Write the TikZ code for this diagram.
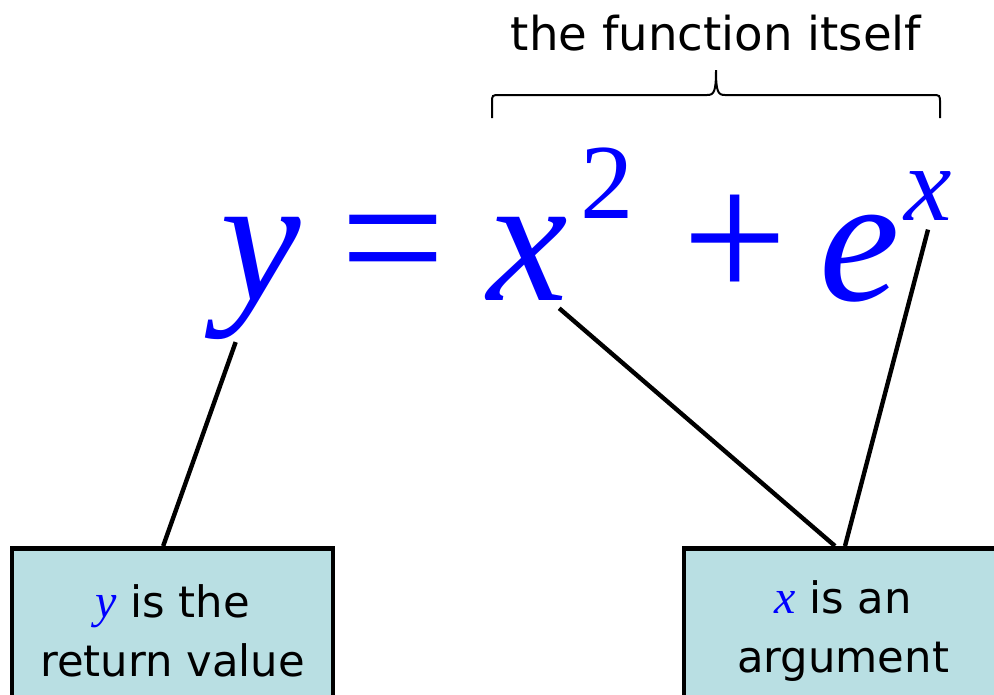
\documentclass[tikz,border=0pt]{standalone}
\usepackage{fontspec}
\setmainfont{DejaVu Sans}
\newfontfamily\eqfont{Liberation Serif}
\usetikzlibrary{positioning}
\definecolor{varc}{RGB}{0,0,255}
\definecolor{boxc}{RGB}{185,223,227}
\tikzset{
  sym/.style={inner sep=0pt,anchor=base,text=varc,font=\eqfont\fontsize{136}{140}\selectfont\itshape},
  op/.style={inner sep=0pt,anchor=base,text=varc,font=\eqfont\fontsize{140}{140}\selectfont},
  supsym/.style={inner sep=0pt,anchor=base,text=varc,font=\eqfont\fontsize{80}{84}\selectfont\itshape},
  supnum/.style={inner sep=0pt,anchor=base,text=varc,font=\eqfont\fontsize{80}{84}\selectfont},
  link/.style={line width=3.3pt,black},
  brace/.style={line width=1.5pt,black},
  note/.style={rectangle,draw=black,line width=3.5pt,fill=boxc,align=center,inner sep=0pt,font=\fontsize{32.5}{44}\selectfont},
}
\newcommand{\vname}[1]{{\color{varc}\eqfont\itshape\fontsize{36}{44}\selectfont #1}}

\begin{document}
\begin{tikzpicture}[x=0.75pt,y=-0.75pt]
  \clip (0,0) rectangle (994,694);
  % equation
  \node[sym] (ysym) at (261,300) {y};
  \node[op] (eq) at (393,300) {=};
  \node[sym] (xvar) at (528,300) {x};
  \node[supnum] (two) at (607,218) {2};
  \node[op] (plus) at (735,300) {+};
  \node[sym] (esym) at (860,300) {e};
  \node[supsym] (supx) at (928,220) {x};
  % brace over the function
  \node[font=\fontsize{35}{40}\selectfont,anchor=base] (fnlabel) at (716,50) {the function itself};
  \coordinate (bl) at (492,118); \coordinate (br) at (940,118); \coordinate (btip) at (716,70);
  \draw[brace] (bl) -- (492,103) .. controls (492,95) .. (500,95) -- (707,95)
    .. controls (714,95) and (716,92) .. (btip)
    .. controls (716,92) and (718,95) .. (725,95) -- (932,95)
    .. controls (940,95) .. (940,103) -- (br);
  % labels
  \node[note,minimum width=240.75pt,minimum height=124pt] (retbox) at (172.5,631)
    {\vname{y} is the\\return value};
  \node[note,minimum width=238.5pt,minimum height=124pt] (argbox) at (843,631)
    {\vname{x} is an\\argument};
  \draw[link] ([xshift=-19pt,yshift=-2pt]ysym.south) -- ([xshift=-7pt]retbox.north);
  \draw[link] ([xshift=-7pt,yshift=-6pt]xvar.south east) -- ([xshift=-6pt]argbox.north);
  \draw[link] ([yshift=-7pt]supx.south) -- ([xshift=1.5pt]argbox.north);
\end{tikzpicture}
\end{document}
